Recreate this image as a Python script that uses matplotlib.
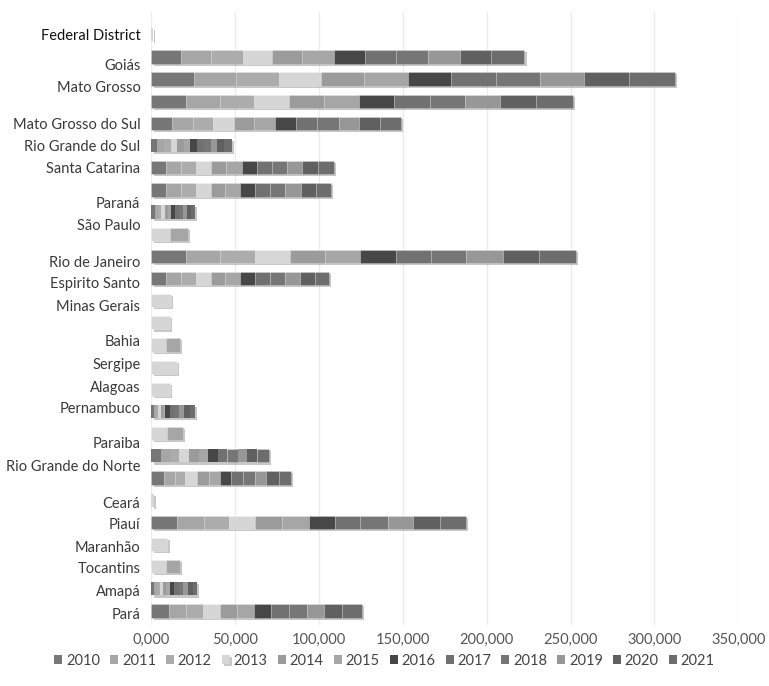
import numpy as np
import matplotlib
matplotlib.use("Agg")
import matplotlib.pyplot as plt
import matplotlib.patheffects as pe

plt.rcParams['font.family'] = ['Lato', 'DejaVu Sans']

# 27 bars, top to bottom (values in thousands)
years = ['2010', '2011', '2012', '2013', '2014', '2015',
         '2016', '2017', '2018', '2019', '2020', '2021']

v2010 = [0, 17.8, 25.3, 20.8, 12.2, 3.5, 8.9, 8.9, 1.9, 0, 20.8, 8.9, 0, 0, 0, 0, 0, 1.3, 0, 5.9, 7.3, 0, 15.4, 0, 0, 1.5, 10.5]
v2011 = [0, 17.8, 25.1, 20.3, 12.5, 4.0, 8.9, 8.9, 1.9, 0, 20.3, 8.9, 0, 0, 0, 0, 0, 1.3, 0, 5.5, 6.5, 0, 15.8, 0, 0, 1.5, 10.3]
v2012 = [0, 18.7, 25.7, 20.2, 11.9, 4.0, 8.9, 8.9, 2.0, 0, 20.6, 8.9, 0, 0, 0, 0, 0, 1.4, 0, 5.3, 6.3, 0, 15.2, 0, 0, 1.8, 9.9]
v2013 = [1.0, 17.8, 25.1, 20.8, 12.5, 3.6, 8.9, 8.5, 2.0, 10.8, 20.8, 8.5, 11.5, 10.9, 8.4, 15.2, 10.9, 1.5, 9.4, 5.9, 6.9, 1.6, 15.4, 9.5, 8.4, 2.0, 9.9]
v2014 = [0, 17.8, 25.3, 20.8, 12.3, 4.0, 8.9, 8.9, 2.0, 0, 20.9, 8.9, 0, 0, 0, 0, 0, 1.4, 0, 5.9, 7.5, 0, 15.8, 0, 0, 2.0, 10.5]
v2015 = [0, 19.2, 26.3, 20.8, 12.3, 3.9, 9.3, 8.9, 2.1, 10.9, 21.2, 8.9, 0, 0, 8.4, 0, 0, 1.4, 9.4, 5.5, 6.5, 0, 16.2, 0, 8.4, 2.1, 9.9]
v2016 = [0, 18.4, 26.1, 20.8, 12.5, 4.2, 9.1, 8.9, 2.3, 0, 21.3, 8.9, 0, 0, 0, 0, 0, 2.6, 0, 5.7, 6.7, 0, 15.4, 0, 0, 2.6, 10.3]
v2017 = [0, 18.4, 26.7, 21.8, 12.8, 4.0, 8.7, 8.9, 2.3, 0, 20.9, 8.9, 0, 0, 0, 0, 0, 2.8, 0, 5.5, 7.1, 0, 15.2, 0, 0, 2.7, 10.5]
v2018 = [0, 19.0, 26.3, 20.8, 12.9, 4.1, 9.1, 8.9, 2.2, 0, 20.9, 8.9, 0, 0, 0, 0, 0, 2.9, 0, 6.3, 6.7, 0, 16.4, 0, 0, 2.7, 10.9]
v2019 = [0, 19.0, 26.1, 20.8, 11.9, 3.8, 9.3, 9.3, 2.2, 0, 21.8, 8.9, 0, 0, 0, 0, 0, 3.0, 0, 5.5, 7.1, 0, 15.2, 0, 0, 2.8, 10.3]
v2020 = [0, 18.4, 26.7, 21.7, 12.5, 4.3, 9.3, 8.9, 2.4, 0, 21.8, 8.7, 0, 0, 0, 0, 0, 3.2, 0, 5.9, 7.3, 0, 15.8, 0, 0, 2.8, 10.9]
v2021 = [0, 20.2, 27.6, 21.8, 12.6, 4.4, 9.5, 9.3, 2.4, 0, 21.7, 8.7, 0, 0, 0, 0, 0, 3.3, 0, 7.0, 7.3, 0, 15.8, 0, 0, 2.8, 11.4]

series = [v2010, v2011, v2012, v2013, v2014, v2015,
          v2016, v2017, v2018, v2019, v2020, v2021]

colors = ['#777777', '#a6a6a6', '#acacac', '#d6d6d6', '#9b9b9b', '#a6a6a6',
          '#474747', '#717171', '#767676', '#979797', '#606060', '#6d6d6d']

# state labels sit at their own positions, not one per bar
state_labels = ['Federal District', 'Goiás', 'Mato Grosso', 'Mato Grosso do Sul',
                'Rio Grande do Sul', 'Santa Catarina', 'Paraná', 'São Paulo',
                'Rio de Janeiro', 'Espirito Santo', 'Minas Gerais', 'Bahia',
                'Sergipe', 'Alagoas', 'Pernambuco', 'Paraiba', 'Rio Grande do Norte',
                'Ceará', 'Piauí', 'Maranhão', 'Tocantins', 'Amapá', 'Pará']
label_pos = [0, 1.35, 2.35, 4.0, 5.0, 6.0, 7.55, 8.55, 10.25, 11.2, 12.2, 13.8,
             14.85, 15.85, 16.8, 18.4, 19.45, 21.1, 22.05, 23.07, 24.06, 25.06, 26.1]

xticks = [0, 50000, 100000, 150000, 200000, 250000, 300000, 350000]
xtick_labels = ['0,000', '50,000', '100,000', '150,000', '200,000',
                '250,000', '300,000', '350,000']


def main():
    fig = plt.figure(figsize=(7.69, 6.86), dpi=100)
    ax = fig.add_axes([0.197, 0.089, 0.763, 0.894])

    n_bars = len(v2010)
    y = np.arange(n_bars)
    left = np.zeros(n_bars)
    shadow = [pe.SimplePatchShadow(offset=(1.5, -1.5), shadow_rgbFace='#000000', alpha=0.22),
              pe.Normal()]

    for year, vals, col in zip(years, series, colors):
        w = np.array(vals) * 1000
        bars = ax.barh(y, w, left=left, height=0.6, color=col,
                       linewidth=0, label=year, zorder=3)
        for b, wi in zip(bars, w):
            if wi > 0:
                b.set_path_effects(shadow)
            # faint separator only on wider segments
            if wi > 6000:
                b.set_edgecolor((1, 1, 1, 0.3))
                b.set_linewidth(0.5)
        left += w

    ax.set_xlim(0, 350000)
    ax.set_ylim(26.63, -1.04)

    ax.set_xticks(xticks)
    ax.set_xticklabels(xtick_labels, fontsize=10.5, color='#555555')
    ax.set_yticks(label_pos)
    ax.set_yticklabels(state_labels, fontsize=10.5, color='#3a3a3a')
    ax.tick_params(axis='both', length=0)
    ax.tick_params(axis='y', pad=8)
    ax.tick_params(axis='x', pad=6)
    ax.get_yticklabels()[0].set_color('#111111')

    ax.grid(axis='x', color='#ececec', linewidth=1.0, zorder=0)
    for s in ax.spines.values():
        s.set_visible(False)

    handles, labels = ax.get_legend_handles_labels()
    fig.legend(handles, labels, loc='center', bbox_to_anchor=(0.5, 0.037), ncol=12,
               frameon=False, fontsize=10.5, handlelength=0.55, handleheight=0.55,
               handletextpad=0.25, columnspacing=0.7, labelcolor='#444444')

    fig.savefig('out.png', dpi=100)


if __name__ == "__main__":
    main()
